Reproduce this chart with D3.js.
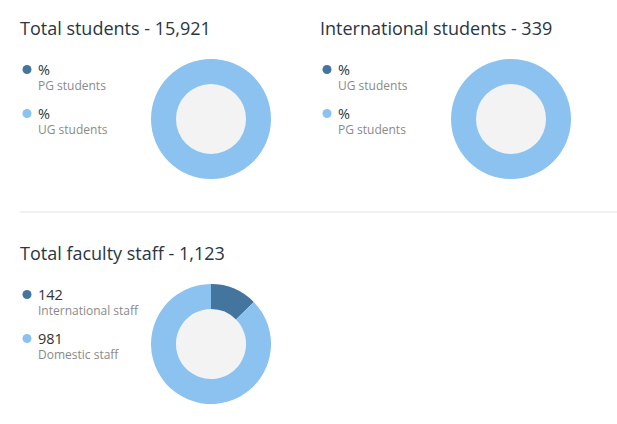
<!DOCTYPE html>
<html>
<head>
<meta charset="utf-8">
<script src="https://cdn.jsdelivr.net/npm/d3@7"></script>
<style>
  body { margin: 0; background: #fff; font-family: "Open Sans", "Noto Sans", sans-serif; }
</style>
</head>
<body>
<div id="chart"></div>
<script>
// chart titles
var titles = ['Total students - 15,921', 'International students - 339', 'Total faculty staff - 1,123'];

// legend labels per donut
var studentLabels = ['PG students', 'UG students'];
var intlLabels = ['UG students', 'PG students'];
var staffLabels = ['International staff', 'Domestic staff'];

// values shown in legend (students have no numbers, only "%")
var studentText = ['%', '%'];
var intlText = ['%', '%'];
var staffText = ['142', '981'];

// slice values (dark slice empty for the student donuts)
var studentValues = [0, 15921];
var intlValues = [0, 339];
var staffValues = [142, 981];

var colors = ['#44759e', '#8bc2ef'];

var width = 617, height = 424;

var svg = d3.select('#chart').append('svg')
  .attr('width', width)
  .attr('height', height);

var pie = d3.pie().sort(null).value(function(d) { return d; });
var arc = d3.arc().innerRadius(35).outerRadius(60);

function donut(x, y, title, values, text, labels) {
  var g = svg.append('g').attr('transform', 'translate(' + x + ',' + y + ')');

  g.append('text')
    .attr('x', 0)
    .attr('y', 35)
    .attr('font-size', 18)
    .attr('font-weight', 500)
    .attr('fill', '#293644')
    .text(title);

  var item = g.selectAll('.item')
    .data(labels).enter()
    .append('g')
    .attr('class', 'item')
    .attr('transform', function(d, i) { return 'translate(0,' + (i * 44) + ')'; });

  item.append('circle')
    .attr('cx', 7)
    .attr('cy', 69.5)
    .attr('r', 4.5)
    .attr('fill', function(d, i) { return colors[i]; });

  item.append('text')
    .attr('x', 18)
    .attr('y', 74.5)
    .attr('font-size', 14.5)
    .attr('fill', '#333')
    .text(function(d, i) { return text[i]; });

  item.append('text')
    .attr('x', 18)
    .attr('y', 90)
    .attr('font-size', 12)
    .attr('fill', '#8a8a8a')
    .text(function(d) { return d; });

  var ring = g.append('g').attr('transform', 'translate(191,119)');

  ring.append('circle')
    .attr('r', 35)
    .attr('fill', '#f3f3f3');

  ring.selectAll('path')
    .data(pie(values)).enter()
    .append('path')
    .attr('d', arc)
    .attr('fill', function(d, i) { return colors[i]; });
}

donut(20, 0, titles[0], studentValues, studentText, studentLabels);
donut(320, 0, titles[1], intlValues, intlText, intlLabels);
donut(20, 225, titles[2], staffValues, staffText, staffLabels);

// divider between rows
svg.append('line')
  .attr('x1', 20).attr('x2', 617)
  .attr('y1', 212).attr('y2', 212)
  .attr('stroke', '#ececec')
  .attr('stroke-width', 1.5);
</script>
</body>
</html>
